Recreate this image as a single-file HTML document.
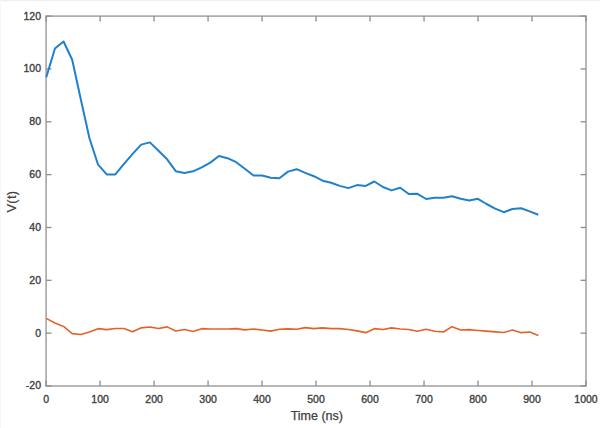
<!DOCTYPE html>
<html><head><meta charset="utf-8"><title>V(t)</title>
<style>
html,body{margin:0;padding:0;background:#fff;}
body{width:600px;height:428px;overflow:hidden;position:relative;}
svg{display:block;position:absolute;left:0;top:0;}
text{font-family:"Liberation Sans",Arial,Helvetica,sans-serif;fill:#404040;stroke:#404040;stroke-width:0.35px;}
.tk text{font-size:10.5px;}
.lb{font-size:12.5px;stroke-width:0.25px;}
.lv{font-size:13px;letter-spacing:0.25px;stroke-width:0.2px;}
</style></head><body>
<svg width="600" height="428" viewBox="0 0 600 428">
<rect x="0" y="0" width="600" height="428" fill="#ffffff"/>
<rect x="0" y="0" width="600" height="1" fill="#efefef"/>
<rect x="0" y="1" width="600" height="1" fill="#fbfbfb"/>
<rect x="0" y="0" width="1" height="428" fill="#f8f8f8"/>
<g stroke="#a6a6a6" stroke-width="1.6" fill="none">
<rect x="46.1" y="16.1" width="539.90" height="369.90"/>
</g>
<g stroke="#8e8e8e" stroke-width="1.3" fill="none">
<line x1="46.10" y1="386.0" x2="46.10" y2="380.6"/>
<line x1="46.10" y1="16.1" x2="46.10" y2="21.5"/>
<line x1="100.09" y1="386.0" x2="100.09" y2="380.6"/>
<line x1="100.09" y1="16.1" x2="100.09" y2="21.5"/>
<line x1="154.08" y1="386.0" x2="154.08" y2="380.6"/>
<line x1="154.08" y1="16.1" x2="154.08" y2="21.5"/>
<line x1="208.07" y1="386.0" x2="208.07" y2="380.6"/>
<line x1="208.07" y1="16.1" x2="208.07" y2="21.5"/>
<line x1="262.06" y1="386.0" x2="262.06" y2="380.6"/>
<line x1="262.06" y1="16.1" x2="262.06" y2="21.5"/>
<line x1="316.05" y1="386.0" x2="316.05" y2="380.6"/>
<line x1="316.05" y1="16.1" x2="316.05" y2="21.5"/>
<line x1="370.04" y1="386.0" x2="370.04" y2="380.6"/>
<line x1="370.04" y1="16.1" x2="370.04" y2="21.5"/>
<line x1="424.03" y1="386.0" x2="424.03" y2="380.6"/>
<line x1="424.03" y1="16.1" x2="424.03" y2="21.5"/>
<line x1="478.02" y1="386.0" x2="478.02" y2="380.6"/>
<line x1="478.02" y1="16.1" x2="478.02" y2="21.5"/>
<line x1="532.01" y1="386.0" x2="532.01" y2="380.6"/>
<line x1="532.01" y1="16.1" x2="532.01" y2="21.5"/>
<line x1="586.00" y1="386.0" x2="586.00" y2="380.6"/>
<line x1="586.00" y1="16.1" x2="586.00" y2="21.5"/>
<line x1="46.1" y1="386.00" x2="51.5" y2="386.00"/>
<line x1="586.0" y1="386.00" x2="580.6" y2="386.00"/>
<line x1="46.1" y1="333.16" x2="51.5" y2="333.16"/>
<line x1="586.0" y1="333.16" x2="580.6" y2="333.16"/>
<line x1="46.1" y1="280.31" x2="51.5" y2="280.31"/>
<line x1="586.0" y1="280.31" x2="580.6" y2="280.31"/>
<line x1="46.1" y1="227.47" x2="51.5" y2="227.47"/>
<line x1="586.0" y1="227.47" x2="580.6" y2="227.47"/>
<line x1="46.1" y1="174.63" x2="51.5" y2="174.63"/>
<line x1="586.0" y1="174.63" x2="580.6" y2="174.63"/>
<line x1="46.1" y1="121.79" x2="51.5" y2="121.79"/>
<line x1="586.0" y1="121.79" x2="580.6" y2="121.79"/>
<line x1="46.1" y1="68.94" x2="51.5" y2="68.94"/>
<line x1="586.0" y1="68.94" x2="580.6" y2="68.94"/>
<line x1="46.1" y1="16.10" x2="51.5" y2="16.10"/>
<line x1="586.0" y1="16.10" x2="580.6" y2="16.10"/>
</g>
<g class="tk">
<text x="41.00" y="389.45" text-anchor="end">-20</text>
<text x="41.00" y="336.61" text-anchor="end">0</text>
<text x="41.00" y="283.76" text-anchor="end">20</text>
<text x="41.00" y="230.92" text-anchor="end">40</text>
<text x="41.00" y="178.08" text-anchor="end">60</text>
<text x="41.00" y="125.24" text-anchor="end">80</text>
<text x="41.00" y="72.39" text-anchor="end">100</text>
<text x="41.00" y="19.55" text-anchor="end">120</text>
<text x="46.10" y="402.70" text-anchor="middle">0</text>
<text x="100.09" y="402.70" text-anchor="middle">100</text>
<text x="154.08" y="402.70" text-anchor="middle">200</text>
<text x="208.07" y="402.70" text-anchor="middle">300</text>
<text x="262.06" y="402.70" text-anchor="middle">400</text>
<text x="316.05" y="402.70" text-anchor="middle">500</text>
<text x="370.04" y="402.70" text-anchor="middle">600</text>
<text x="424.03" y="402.70" text-anchor="middle">700</text>
<text x="478.02" y="402.70" text-anchor="middle">800</text>
<text x="532.01" y="402.70" text-anchor="middle">900</text>
<text x="586.00" y="402.70" text-anchor="middle">1000</text>
</g>
<text class="lb" x="316.85" y="419.6" text-anchor="middle">Time (ns)</text>
<text class="lv" transform="translate(16.2,201.65) rotate(-90)" text-anchor="middle">V(t)</text>
<polyline fill="none" stroke="#2080cc" stroke-width="2.0" stroke-linejoin="round" stroke-linecap="butt" points="46.30,77.20 54.93,48.50 63.56,41.50 72.20,59.70 80.83,99.50 89.46,138.20 98.09,164.70 106.72,174.40 115.36,174.40 123.99,163.90 132.62,153.90 141.25,144.60 149.88,142.40 158.52,150.70 167.15,159.30 175.78,171.20 184.41,172.90 193.04,171.30 201.68,167.40 210.31,162.60 218.94,156.00 227.57,158.20 236.20,162.20 244.84,168.80 253.47,175.50 262.10,175.50 270.73,177.80 279.36,178.30 288.00,171.60 296.63,169.20 305.26,172.80 313.89,176.20 322.52,180.70 331.16,182.70 339.79,185.90 348.42,188.10 357.05,185.10 365.68,185.90 374.32,181.50 382.95,187.00 391.58,190.40 400.21,187.80 408.84,194.00 417.48,193.80 426.11,199.00 434.74,197.80 443.37,197.80 452.00,196.20 460.64,198.80 469.27,200.50 477.90,198.80 486.53,204.00 495.16,208.60 503.80,212.20 512.43,209.00 521.06,208.20 529.69,211.40 538.32,214.80"/>
<polyline fill="none" stroke="#e4622a" stroke-width="1.6" stroke-linejoin="round" stroke-linecap="butt" points="46.30,318.35 54.93,323.05 63.56,326.45 72.20,333.65 80.83,334.45 89.46,332.05 98.09,328.65 106.72,329.65 115.36,328.45 123.99,328.45 132.62,331.85 141.25,327.85 149.88,327.05 158.52,328.45 167.15,326.85 175.78,331.05 184.41,329.45 193.04,331.45 201.68,328.65 210.31,329.05 218.94,329.05 227.57,329.05 236.20,328.65 244.84,329.85 253.47,329.05 262.10,329.95 270.73,331.15 279.36,329.25 288.00,328.85 296.63,329.25 305.26,327.65 313.89,328.65 322.52,327.85 331.16,328.65 339.79,328.65 348.42,329.45 357.05,330.85 365.68,332.65 374.32,328.65 382.95,329.45 391.58,327.85 400.21,329.05 408.84,329.45 417.48,331.25 426.11,329.25 434.74,331.25 443.37,332.05 452.00,326.65 460.64,330.05 469.27,329.65 477.90,330.45 486.53,331.15 495.16,331.85 503.80,332.45 512.43,330.05 521.06,332.65 529.69,332.05 538.32,335.45"/>
</svg>
</body></html>
